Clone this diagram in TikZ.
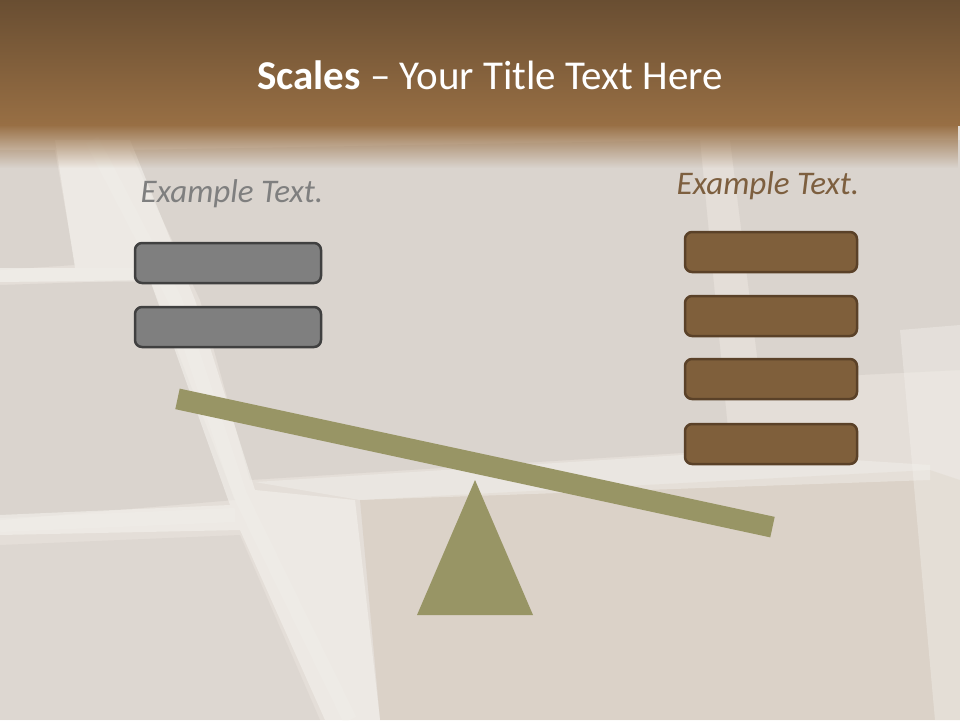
\documentclass[tikz,border=0pt]{standalone}
\usepackage{fontspec}
\setmainfont{Carlito}
\usetikzlibrary{fadings}
\begin{document}
\begin{tikzpicture}[x=1pt,y=-1pt,
  graybox/.style={draw=boxgrayline,fill=boxgray,line width=2.5pt,rounded corners=7pt},
  brownbox/.style={draw=boxbrownline,fill=boxbrown,line width=2.5pt,rounded corners=7pt},
  lbl/.style={font=\fontsize{33}{36}\selectfont\itshape,inner sep=0pt},
  tile/.style={fill=tilecol,opacity=0.45},
  grout/.style={fill=groutcol,opacity=0.6},
  soft/.style={draw=groutcol,line width=14pt,opacity=0.25,line join=round}]
\definecolor{boxgray}{HTML}{7F7F7F}
\definecolor{boxgrayline}{HTML}{404040}
\definecolor{boxbrown}{HTML}{7F5F3B}
\definecolor{boxbrownline}{HTML}{5A4128}
\definecolor{beamcol}{HTML}{989565}
\definecolor{bgcol}{HTML}{E4DED8}
\definecolor{tilecol}{HTML}{D0C9C2}
\definecolor{groutcol}{HTML}{F3F1EC}
\definecolor{hdtop}{HTML}{694E32}
\definecolor{hdbot}{HTML}{986F44}
\definecolor{lblgray}{HTML}{7F7F7F}
\definecolor{lblbrown}{HTML}{7D5F3F}
\useasboundingbox (0,0) rectangle (960,720);
% background
\fill[bgcol] (0,0) rectangle (960,720);
% tiles (photo approximation)
\fill[tile] (0,150) -- (55,150) -- (75,265) -- (0,270) -- cycle;
\fill[tile] (0,285) -- (150,280) -- (235,500) -- (0,520) -- cycle;
\fill[tile] (130,150) -- (700,140) -- (730,450) -- (250,480) -- (200,300) -- cycle;
\fill[tile] (730,140) -- (960,140) -- (960,370) -- (760,380) -- cycle;
\fill[tile, fill=tilecol!88!brown, opacity=0.4] (360,500) -- (930,470) -- (960,480) -- (960,720) -- (380,720) -- cycle;
\fill[tile, opacity=0.3] (0,545) -- (240,535) -- (320,720) -- (0,720) -- cycle;
% grout
\path[grout] (55,140) -- (130,140) -- (195,300) -- (255,490) -- (355,500) -- (380,720) -- (325,720) -- (240,530) -- (0,535) -- (0,515) -- (230,505) -- (150,280) -- (0,282) -- (0,268) -- (75,268) -- cycle;
\draw[soft] (92,140) -- (175,300) -- (240,495) -- (350,720);
\draw[soft] (0,525) -- (235,515);
\draw[soft] (0,275) -- (150,275);
\fill[grout, opacity=0.45] (255,482) -- (730,452) -- (930,465) -- (930,480) -- (360,500) -- cycle;
\fill[grout, opacity=0.4] (900,330) -- (960,325) -- (960,720) -- (935,720) -- cycle;
% header
\shade[top color=hdtop,bottom color=hdbot] (0,0) rectangle (960,125);
\fill[hdbot,path fading=south] (0,124.5) rectangle (960,168);
\node[text=white,font=\fontsize{41}{44}\selectfont] (title) at (490,75)
  {\textbf{Scales} -- Your Title Text Here};
% labels
\node[lbl,text=lblgray] (ltext) at (232,194) {Example Text.};
\node[lbl,text=lblbrown] (rtext) at (768,186) {Example Text.};
% left boxes
\draw[graybox] (135,243) rectangle (321,283);
\draw[graybox] (135,307) rectangle (321,347);
% right boxes
\draw[brownbox] (685,232) rectangle (857,272);
\draw[brownbox] (685,296) rectangle (857,336);
\draw[brownbox] (685,359) rectangle (857,399);
\draw[brownbox] (685,424) rectangle (857,464);
% fulcrum
\fill[beamcol] (475,480) -- (533,615) -- (417,615) -- cycle;
% beam
\coordinate (bl) at (178,399);
\coordinate (br) at (772,527);
\draw[beamcol,line width=21pt,line cap=rect,shorten >=10pt,shorten <=10pt] (bl) -- (br);
\end{tikzpicture}
\end{document}
